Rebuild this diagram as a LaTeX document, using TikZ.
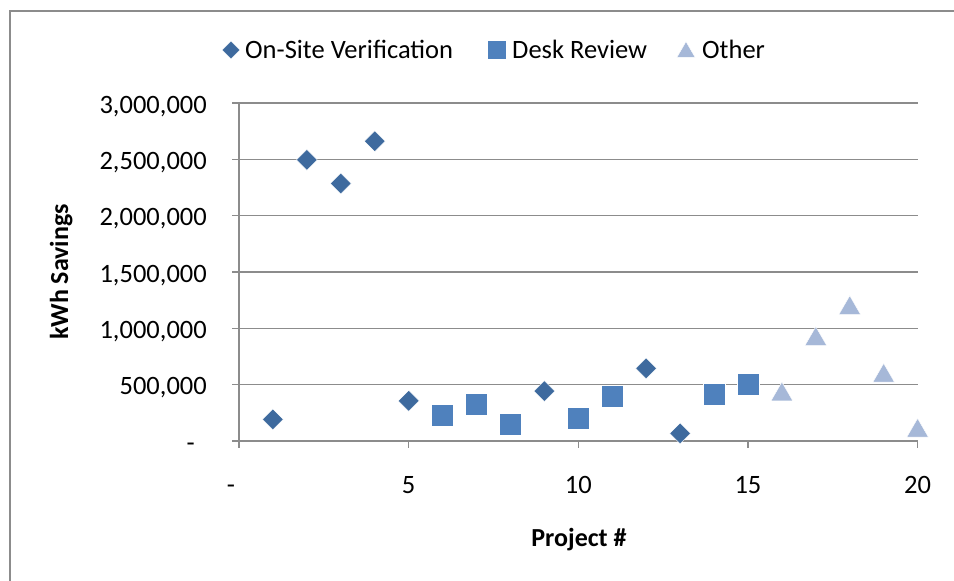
\documentclass[tikz,border=0pt]{standalone}
\usepackage{fontspec}
\setmainfont{Carlito}
\usetikzlibrary{shapes.geometric}
\definecolor{gridgray}{HTML}{8C8C8C}
\definecolor{onsite}{HTML}{3E6A9E}
\definecolor{desk}{HTML}{4F81BD}
\definecolor{other}{HTML}{A6B8D8}
\tikzset{
  gridline/.style={draw=gridgray, line width=1.6pt},
  frameline/.style={draw=gridgray, line width=2pt},
  ticklabel/.style={font=\fontsize{26.5}{29}\selectfont, inner sep=0pt},
  axistitle/.style={font=\fontsize{26}{29}\selectfont\bfseries, inner sep=0pt},
  onsitemark/.style={diamond, fill=onsite, draw=white, line width=0.4pt, inner sep=0pt, minimum width=21pt, minimum height=21pt},
  deskmark/.style={rectangle, fill=desk, draw=white, line width=0.4pt, inner sep=0pt, minimum size=22pt},
  othermark/.style={regular polygon, regular polygon sides=3, fill=other, draw=white, line width=0.4pt, inner sep=0pt, minimum size=25pt, yshift=-3.1pt}
}
\begin{document}
\begin{tikzpicture}[x=1pt, y=-1pt]
  \useasboundingbox (0,0) rectangle (954,581);
  % chart frame (runs off the right and bottom edges)
  \draw[frameline] (10,600) -- (10,10.5) -- (970,10.5);

  % horizontal gridlines and value labels
  \foreach \k/\lab in {1/{500,000},2/{1,000,000},3/{1,500,000},4/{2,000,000},5/{2,500,000},6/{3,000,000}}{
    \draw[gridline] (232,{441-56.33*\k}) -- (918,{441-56.33*\k});
    \node[ticklabel, anchor=base east] (ylab\k) at (207,{451-56.33*\k}) {\lab};
  }
  \node[ticklabel, anchor=base east] (ylab0) at (195,451) {-};

  % axes
  \draw[gridline] (232,441) -- (918,441);
  \draw[gridline] (239,103) -- (239,448);
  \foreach \i in {5,10,15,20}{
    \draw[gridline] ({239+33.93*\i},441) -- ({239+33.93*\i},448);
    \node[ticklabel, anchor=base] (xlab\i) at ({239+33.93*\i},493) {\i};
  }
  \node[ticklabel, anchor=base] (xlab0) at (231,493) {-};

  % axis titles
  \node[axistitle, anchor=base] (xtitle) at (579,546) {Project \#};
  \node[axistitle, rotate=90, anchor=base] (ytitle) at (68,272) {kWh Savings};

  % data series (values in thousands of kWh)
  \foreach \i/\v in {1/192,2/2495,3/2285,4/2660,5/357,9/443,12/644,13/68}
    \node[onsitemark] (on\i) at ({239+33.93*\i},{441-0.11267*\v}) {};
  \foreach \i/\v in {6/230,7/328,8/151,10/198,11/399,14/417,15/505}
    \node[deskmark] (dr\i) at ({239+33.93*\i},{441-0.11267*\v}) {};
  \foreach \i/\v in {16/440,17/931,18/1206,19/605,20/117}
    \node[othermark] (ot\i) at ({239+33.93*\i},{441-0.11267*\v}) {};

  % legend
  \node[onsitemark, minimum width=18pt, minimum height=18pt] (legon) at (231,50) {};
  \node[ticklabel, anchor=base west] (legontext) at (245,58) {On-Site Verification};
  \node[deskmark, minimum size=19pt] (legdr) at (497,50) {};
  \node[ticklabel, anchor=base west] (legdrtext) at (512,58) {Desk Review};
  \node[othermark, minimum size=21pt] (legot) at (686,49) {};
  \node[ticklabel, anchor=base west] (legottext) at (702,58) {Other};
\end{tikzpicture}
\end{document}
